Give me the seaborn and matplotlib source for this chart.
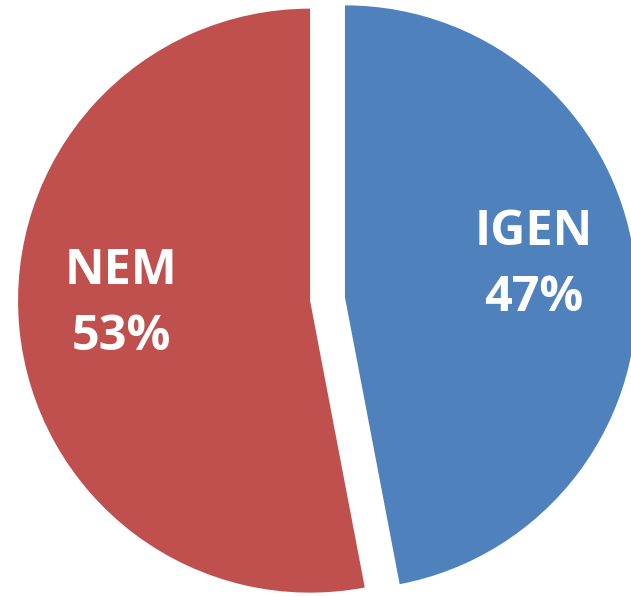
import matplotlib
matplotlib.use("Agg")
import matplotlib.pyplot as plt
import matplotlib.transforms as mtransforms
import seaborn as sns

# data
labels = ["IGEN", "NEM"]
values = [47, 53]
colors = ["#4F81BD", "#C0504D"]

sns.set_style("white")
plt.rcParams['font.family'] = ['Open Sans', 'DejaVu Sans']

W, H = 631, 597
fig = plt.figure(figsize=(W / 100, H / 100), dpi=100)
ax = fig.add_axes([0, 0, 1, 1])

total = sum(values)
texts = [f"{l}\n{round(v / total * 100)}%" for l, v in zip(labels, values)]

wedges, label_texts = ax.pie(
    values,
    labels=texts,
    colors=colors,
    startangle=90,
    counterclock=False,
    explode=[0.06, 0.06],
    labeldistance=0.65,
    textprops=dict(color="white", fontsize=35, fontweight="bold",
                   ha="center", va="center", linespacing=1.45),
    wedgeprops=dict(linewidth=0),
)

# nudge labels up a little
for t in label_texts:
    t.set_transform(mtransforms.offset_copy(ax.transData, fig=fig, x=0, y=14, units='dots'))

# pixel scale: radius 1 -> 292 px, pie centre at (327.5, 298) from top-left
px = 292
cx, cy = 327.5, 299
ax.set_xlim(-cx / px, (W - cx) / px)
ax.set_ylim(-(H - cy) / px, cy / px)
ax.set_aspect('auto')
ax.axis('off')

fig.savefig("out.png", dpi=100)
